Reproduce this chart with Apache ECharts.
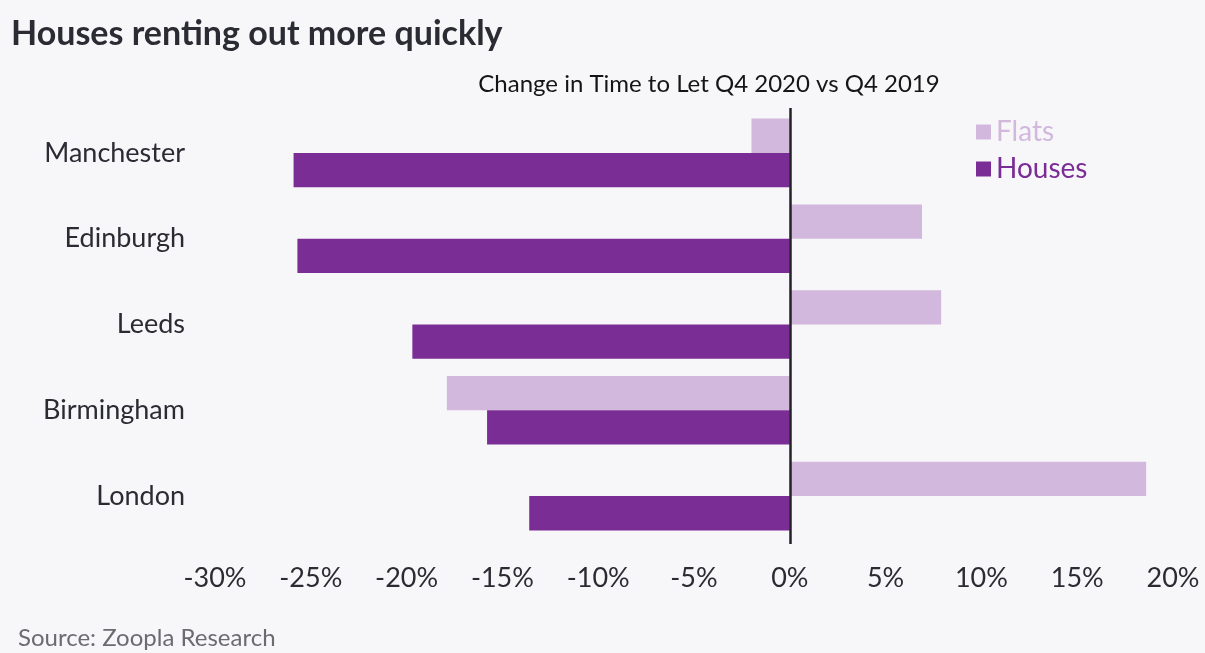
<!DOCTYPE html>
<html><head><meta charset="utf-8">
<script src="https://cdn.jsdelivr.net/npm/echarts@6/dist/echarts.min.js"></script>
<style>html,body{margin:0;padding:0;background:#f7f7f9;}#c{width:1205px;height:653px;}</style>
</head><body><div id="c"></div>
<script>
const categories = ['Manchester', 'Edinburgh', 'Leeds', 'Birmingham', 'London'];
const flats = [-2.0, 6.9, 7.9, -17.9, 18.6];
const houses = [-25.9, -25.7, -19.7, -15.8, -13.6];
const xTicks = [-30, -25, -20, -15, -10, -5, 0, 5, 10, 15, 20];

const chart = echarts.init(document.getElementById('c'));
const FONT = 'Lato, "Noto Sans", sans-serif';
chart.setOption({
  backgroundColor: '#f7f7f9',
  animation: false,
  textStyle: { fontFamily: FONT },
  title: [
    { text: 'Houses renting out more quickly', left: 6, top: 12,
      textStyle: { fontFamily: FONT, fontSize: 34, fontWeight: 'bold', color: '#2b2b33' } },
    { text: 'Change in Time to Let Q4 2020 vs Q4 2019', left: 704, top: 67, textAlign: 'center',
      textStyle: { fontFamily: FONT, fontSize: 24, fontWeight: 'normal', color: '#151515' } },
    { text: 'Source: Zoopla Research', left: 13, top: 621,
      textStyle: { fontFamily: FONT, fontSize: 24, fontWeight: 'normal', color: '#6b6b70' } }
  ],
  legend: {
    orient: 'vertical', left: 971, top: 113, itemWidth: 15, itemHeight: 15, itemGap: 9,
    icon: 'rect',
    data: [
      { name: 'Flats', textStyle: { color: '#d3b8dd' } },
      { name: 'Houses', textStyle: { color: '#7b2d96' } }
    ],
    textStyle: { fontFamily: FONT, fontSize: 28 }
  },
  grid: { left: 215, right: 32, top: 110, bottom: 114, containLabel: false },
  xAxis: {
    type: 'value', min: xTicks[0], max: xTicks[xTicks.length - 1], interval: 5,
    axisLine: { show: false }, axisTick: { show: false }, splitLine: { show: false },
    axisLabel: { formatter: '{value}%', fontFamily: FONT, fontSize: 27, color: '#2b2b33', margin: 26 }
  },
  yAxis: {
    type: 'category', data: categories, inverse: true,
    axisLine: { show: false }, axisTick: { show: false },
    axisLabel: { fontFamily: FONT, fontSize: 27, color: '#2b2b33', margin: 30 }
  },
  series: [
    { name: 'Flats', type: 'bar', data: flats, barGap: '0%', barCategoryGap: '20%',
      itemStyle: { color: '#d3b8dd' },
      markLine: { symbol: 'none', silent: true, label: { show: false },
        lineStyle: { color: '#222228', width: 2.5, type: 'solid' },
        data: [[{ coord: [0, categories[0]], y: 108 }, { coord: [0, categories[4]], y: 544 }]] } },
    { name: 'Houses', type: 'bar', data: houses, itemStyle: { color: '#7b2d96' } }
  ]
});
</script></body></html>
